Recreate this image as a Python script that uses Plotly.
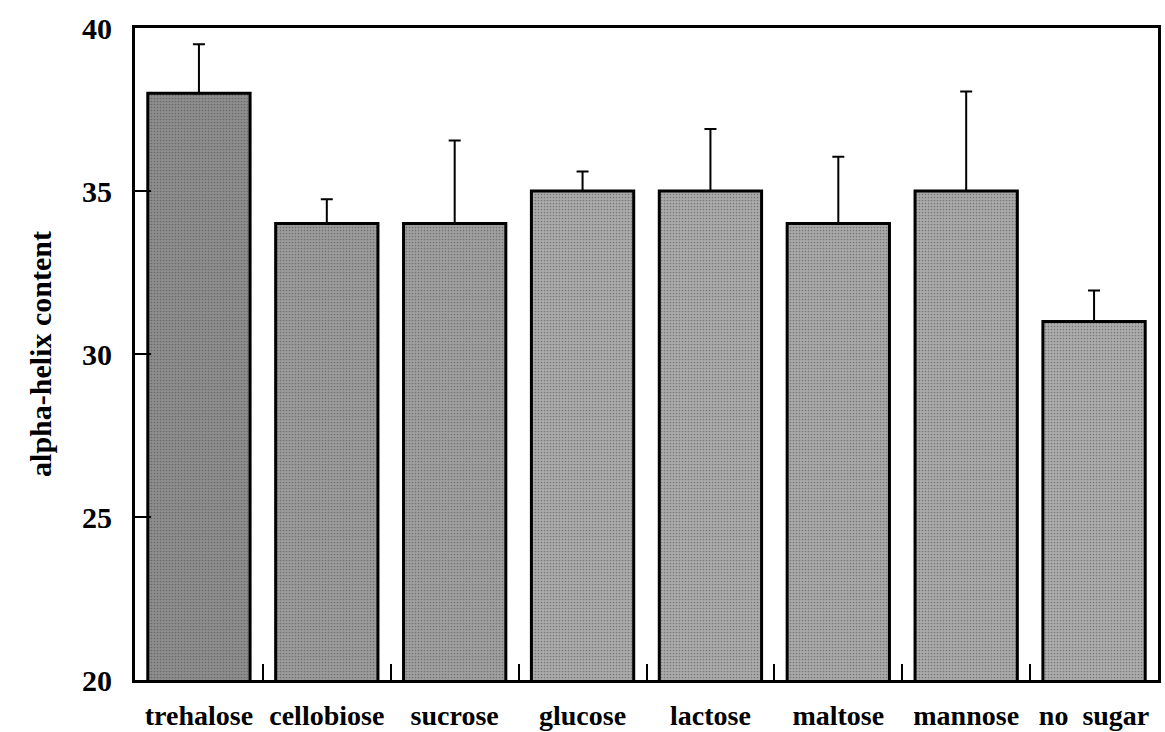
import plotly.graph_objects as go

sugars = ["trehalose", "cellobiose", "sucrose", "glucose", "lactose", "maltose", "mannose", "no  sugar"]
helix = [38, 34, 34, 35, 35, 34, 35, 31]
err_up = [1.5, 0.75, 2.55, 0.6, 1.9, 2.05, 3.05, 0.95]
bar_bg = ["#8e8e8e", "#9c9c9c", "#a0a0a0", "#ababab", "#ababab", "#a9a9a9", "#aaaaaa", "#adadad"]
y_ticks = [20, 25, 30, 35, 40]

FONT = "Liberation Serif, Times New Roman, serif"

fig = go.Figure(
    go.Bar(
        x=sugars,
        y=helix,
        marker=dict(
            color=bar_bg,
            line=dict(color="black", width=3),
            pattern=dict(shape=".", fgcolor="#4a4a4a", bgcolor=bar_bg, size=3, solidity=0.25, fillmode="overlay"),
        ),
        error_y=dict(type="data", symmetric=False, array=err_up, arrayminus=[0] * len(err_up),
                     color="black", thickness=2, width=6),
    )
)

fig.update_layout(
    width=1165, height=732,
    margin=dict(l=135, r=7, t=28, b=52),
    paper_bgcolor="white", plot_bgcolor="white",
    bargap=0.2,
    showlegend=False,
    font=dict(family=FONT, color="black"),
)
fig.update_xaxes(
    type="category",
    range=[-0.5, 7.5],
    automargin=False,
    tickangle=0,
    showline=True, linecolor="black", linewidth=3, mirror=True,
    ticks="inside", tickson="boundaries", ticklen=16, tickwidth=2, tickcolor="black",
    tickfont=dict(family=FONT, size=28, weight="bold"),
    ticklabelstandoff=8,
    showgrid=False, zeroline=False,
)
fig.update_yaxes(
    range=[20, 40],
    automargin=False,
    tickvals=y_ticks,
    ticktext=[str(v) for v in y_ticks],
    showline=True, linecolor="black", linewidth=3, mirror=True,
    ticks="inside", ticklen=16, tickwidth=2, tickcolor="black",
    tickfont=dict(family=FONT, size=30, weight="bold"),
    ticklabelstandoff=14,
    title=dict(text="alpha-helix content", font=dict(family=FONT, size=30, weight="bold"), standoff=22),
    showgrid=False, zeroline=False,
)

fig.write_html("out.html")
